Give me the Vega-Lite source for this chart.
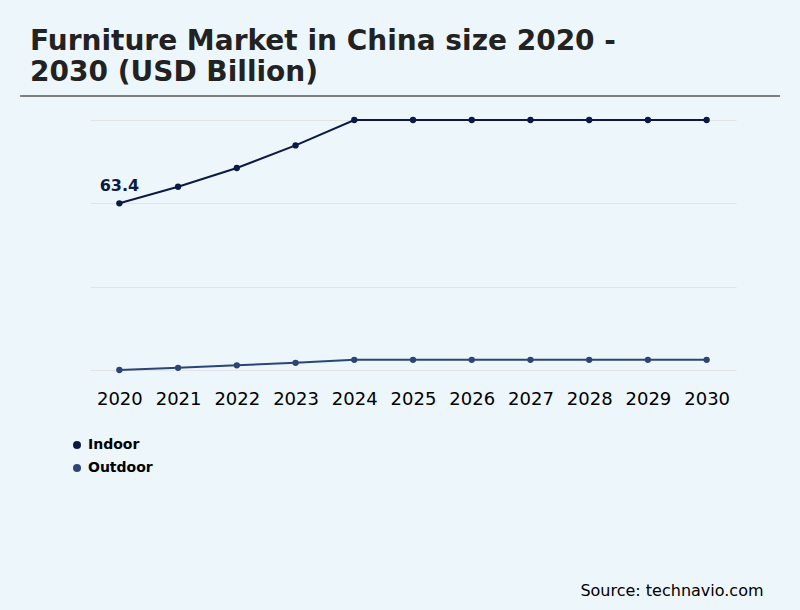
{
  "$schema": "https://vega.github.io/schema/vega-lite/v6.json",
  "width": 646,
  "height": 250,
  "autosize": "none",
  "padding": {"left": 90, "top": 120, "right": 64, "bottom": 240},
  "background": "#ecf6fb",
  "config": {"view": {"stroke": null}},
  "title": {
    "text": ["Furniture Market in China size 2020 -", "2030 (USD Billion)"],
    "anchor": "start",
    "frame": "group",
    "dx": -60,
    "offset": 8,
    "font": "DejaVu Sans",
    "fontSize": 28,
    "fontWeight": "bold",
    "color": "#222222",
    "lineHeight": 31
  },
  "data": {
    "values": [
      {"year": 2020, "segment": "Indoor", "value": 63.4},
      {"year": 2021, "segment": "Indoor", "value": 69.4},
      {"year": 2022, "segment": "Indoor", "value": 76.2},
      {"year": 2023, "segment": "Indoor", "value": 84.4},
      {"year": 2024, "segment": "Indoor", "value": 93.6},
      {"year": 2025, "segment": "Indoor", "value": 93.6},
      {"year": 2026, "segment": "Indoor", "value": 93.6},
      {"year": 2027, "segment": "Indoor", "value": 93.6},
      {"year": 2028, "segment": "Indoor", "value": 93.6},
      {"year": 2029, "segment": "Indoor", "value": 93.6},
      {"year": 2030, "segment": "Indoor", "value": 93.6},
      {"year": 2020, "segment": "Outdoor", "value": 3.0},
      {"year": 2021, "segment": "Outdoor", "value": 3.8},
      {"year": 2022, "segment": "Outdoor", "value": 4.7},
      {"year": 2023, "segment": "Outdoor", "value": 5.6},
      {"year": 2024, "segment": "Outdoor", "value": 6.7},
      {"year": 2025, "segment": "Outdoor", "value": 6.7},
      {"year": 2026, "segment": "Outdoor", "value": 6.7},
      {"year": 2027, "segment": "Outdoor", "value": 6.7},
      {"year": 2028, "segment": "Outdoor", "value": 6.7},
      {"year": 2029, "segment": "Outdoor", "value": 6.7},
      {"year": 2030, "segment": "Outdoor", "value": 6.7}
    ]
  },
  "encoding": {
    "x": {
      "field": "year",
      "type": "quantitative",
      "scale": {"domain": [2019.5, 2030.5], "nice": false, "zero": false},
      "axis": {
        "values": [2020, 2021, 2022, 2023, 2024, 2025, 2026, 2027, 2028, 2029, 2030],
        "format": "d",
        "grid": false,
        "ticks": false,
        "domain": false,
        "labelFont": "DejaVu Sans",
        "labelFontSize": 18,
        "labelColor": "#000000",
        "labelPadding": 20,
        "title": "Source: technavio.com",
        "titleFont": "DejaVu Sans",
        "titleFontSize": 16,
        "titleFontWeight": "normal",
        "titleColor": "#000000",
        "titleAnchor": null,
        "titleAlign": "right",
        "titleBaseline": "alphabetic",
        "titleX": 673,
        "titleY": 225
      }
    },
    "y": {
      "field": "value",
      "type": "quantitative",
      "scale": {"domain": [3.0, 93.6], "nice": false, "zero": false},
      "axis": {
        "values": [3.0, 33.2, 63.4, 93.6],
        "labels": false,
        "ticks": false,
        "domain": false,
        "grid": true,
        "gridColor": "#e3e3e3",
        "gridWidth": 1,
        "title": null
      }
    },
    "color": {
      "field": "segment",
      "type": "nominal",
      "scale": {"domain": ["Indoor", "Outdoor"], "range": ["#0b1a44", "#2c4576"]},
      "legend": {
        "title": null,
        "orient": "none",
        "legendX": -20,
        "legendY": 318,
        "direction": "vertical",
        "symbolType": "circle",
        "symbolSize": 64,
        "symbolStrokeWidth": 0,
        "symbolOpacity": 1,
        "labelFont": "DejaVu Sans",
        "labelFontSize": 14,
        "labelFontWeight": "bold",
        "labelColor": "#000000",
        "rowPadding": 9,
        "labelOffset": 4
      }
    }
  },
  "layer": [
    {"mark": {"type": "line", "strokeWidth": 2}},
    {"mark": {"type": "circle", "size": 40, "opacity": 1}},
    {
      "transform": [{"filter": "datum.segment === 'Indoor' && datum.year === 2020"}],
      "mark": {
        "type": "text",
        "font": "DejaVu Sans",
        "fontSize": 16,
        "fontWeight": "bold",
        "baseline": "alphabetic",
        "dy": -12,
        "color": "#0b1a44"
      },
      "encoding": {
        "text": {"field": "value", "type": "quantitative", "format": ".1f"},
        "color": {"value": "#0b1a44"}
      }
    },
    {
      "data": {"values": [{"start": 2018.31, "end": 2031.25, "level": 102.3}]},
      "mark": {"type": "rule", "color": "#7f7f7f", "strokeWidth": 2, "clip": false},
      "encoding": {
        "x": {"field": "start", "type": "quantitative"},
        "x2": {"field": "end"},
        "y": {"field": "level", "type": "quantitative"},
        "color": {"value": "#7f7f7f"}
      }
    }
  ]
}
